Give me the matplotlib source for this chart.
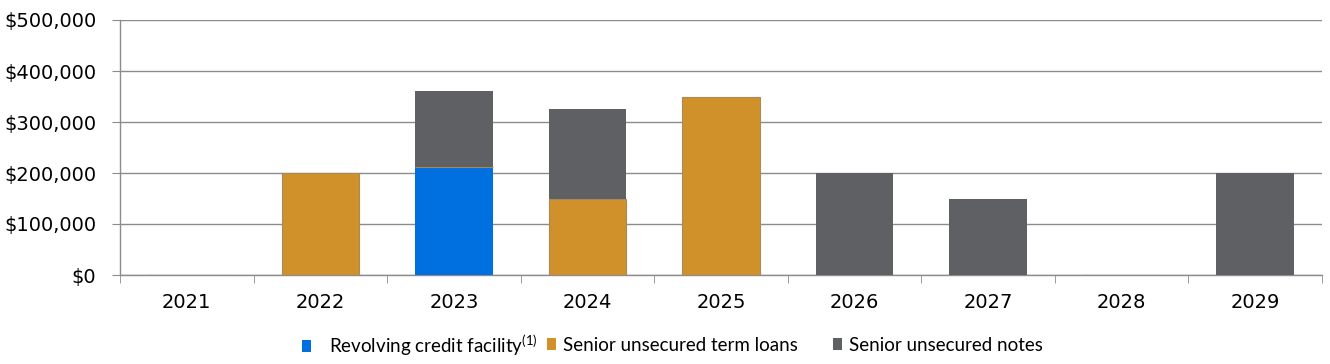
import matplotlib
matplotlib.use("Agg")
import matplotlib.pyplot as plt
import numpy as np
from matplotlib.patches import Patch
from matplotlib.ticker import FuncFormatter, MultipleLocator

years = ["2021", "2022", "2023", "2024", "2025", "2026", "2027", "2028", "2029"]
revolving = [0, 0, 212000, 0, 0, 0, 0, 0, 0]
term_loans = [0, 200000, 0, 150000, 350000, 0, 0, 0, 0]
notes = [0, 0, 149000, 175000, 0, 200000, 150000, 0, 200000]

series_labels = ["Revolving credit facility$^{(1)}$", "Senior unsecured term loans", "Senior unsecured notes"]
colors = ["#0070E0", "#D1912A", "#5F6064"]

plt.rcParams["mathtext.fontset"] = "custom"
plt.rcParams["mathtext.rm"] = "Lato"
plt.rcParams["mathtext.it"] = "Lato"

fig = plt.figure(figsize=(13.3, 3.64), dpi=100)
ax = fig.add_axes([120 / 1330, 1 - 275 / 364, 1202 / 1330, 255 / 364])

x = np.arange(len(years))
w = 0.58
rev = np.array(revolving)
tl = np.array(term_loans)
nt = np.array(notes)
ax.bar(x, rev, w, color=colors[0], zorder=3)
ax.bar(x, tl, w, bottom=rev, color=colors[1], edgecolor="#A88A5A", linewidth=0.8, zorder=3)
ax.bar(x, nt, w, bottom=rev + tl, color=colors[2], zorder=3)

ax.set_xlim(-0.5, len(years) - 0.5)
ax.set_ylim(0, 500000)
ax.yaxis.set_major_locator(MultipleLocator(100000))
ax.yaxis.set_major_formatter(FuncFormatter(lambda v, p: "${:,.0f}".format(v)))
ax.grid(axis="y", color="#8C8C8C", linewidth=1.0, zorder=0)
ax.set_axisbelow(True)

ax.set_xticks(x)
ax.set_xticklabels(years)
ax.set_xticks(np.arange(-0.5, len(years), 1.0), minor=True)
ax.tick_params(axis="x", which="major", length=0, pad=13, labelsize=14)
ax.tick_params(axis="x", which="minor", length=6, color="#8C8C8C", direction="out")
ax.tick_params(axis="y", length=6, color="#8C8C8C", labelsize=14, pad=11)

for s in ["top", "right"]:
    ax.spines[s].set_visible(False)
for s in ["left", "bottom"]:
    ax.spines[s].set_color("#8C8C8C")
    ax.spines[s].set_linewidth(1.0)

legend_pos = [(302 / 1330, 0.052, 0.95), (547 / 1330, 0.052, 0.35), (833 / 1330, 0.052, 0.35)]
for lab, col, (lx, ly, pad) in zip(series_labels, colors, legend_pos):
    fig.legend(handles=[Patch(facecolor=col, label=lab)], loc="center left",
               bbox_to_anchor=(lx, ly), frameon=False, handlelength=0.5, handleheight=0.55,
               handletextpad=pad, borderpad=0, borderaxespad=0,
               prop={"family": "Lato", "size": 13.5})

fig.savefig("out.png", dpi=100)
